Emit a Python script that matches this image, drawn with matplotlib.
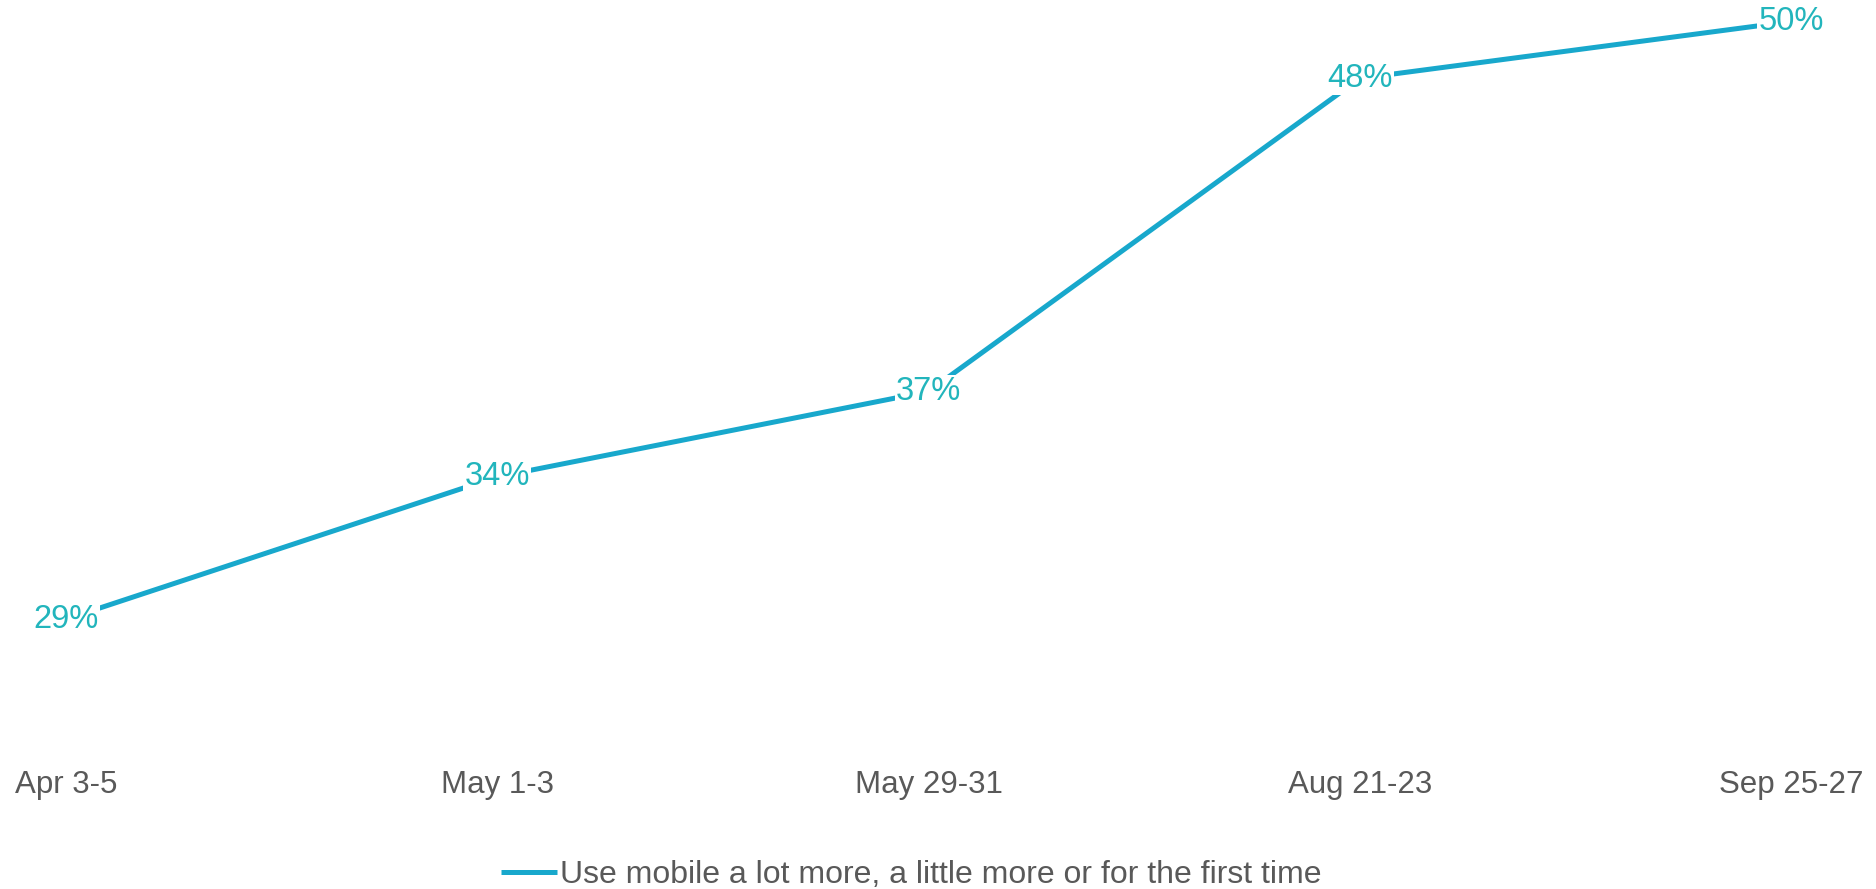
import matplotlib.pyplot as plt

plt.rcParams['font.family'] = ['Liberation Sans', 'DejaVu Sans']

periods = ['Apr 3-5', 'May 1-3', 'May 29-31', 'Aug 21-23', 'Sep 25-27']
mobile_use = [29, 34, 37, 48, 50]
series_name = 'Use mobile a lot more, a little more or for the first time'

line_color = '#18A8CC'
label_color = '#22B5BC'
text_grey = '#595959'

W, H = 1876, 889
fig = plt.figure(figsize=(W / 100, H / 100), dpi=100)
ax = fig.add_axes([66 / W, 1 - 733 / H, (1791 - 66) / W, (733 - 21.5) / H])

x = list(range(len(periods)))
ax.plot(x, mobile_use, color=line_color, lw=3.6, solid_capstyle='butt',
        label=series_name, clip_on=False)

for xi, v in zip(x, mobile_use):
    ax.text(xi, v, f'{v}%', ha='center', va='center', fontsize=23.5, color=label_color,
            bbox=dict(facecolor='white', edgecolor='none', pad=1), zorder=5, clip_on=False)

ax.set_xlim(0, 4)
ax.set_ylim(25, 50)
ax.set_xticks(x)
ax.set_xticklabels(periods, fontsize=22.5, color=text_grey)
ax.tick_params(axis='x', length=0, pad=27)
ax.set_yticks([])
for s in ax.spines.values():
    s.set_visible(False)

leg = fig.legend(loc='center', bbox_to_anchor=(911 / W, 1 - 875 / H), frameon=False,
                 fontsize=23, handlelength=1.75, handletextpad=0.1)
for t in leg.get_texts():
    t.set_color(text_grey)

fig.savefig('out.png', dpi=100)
